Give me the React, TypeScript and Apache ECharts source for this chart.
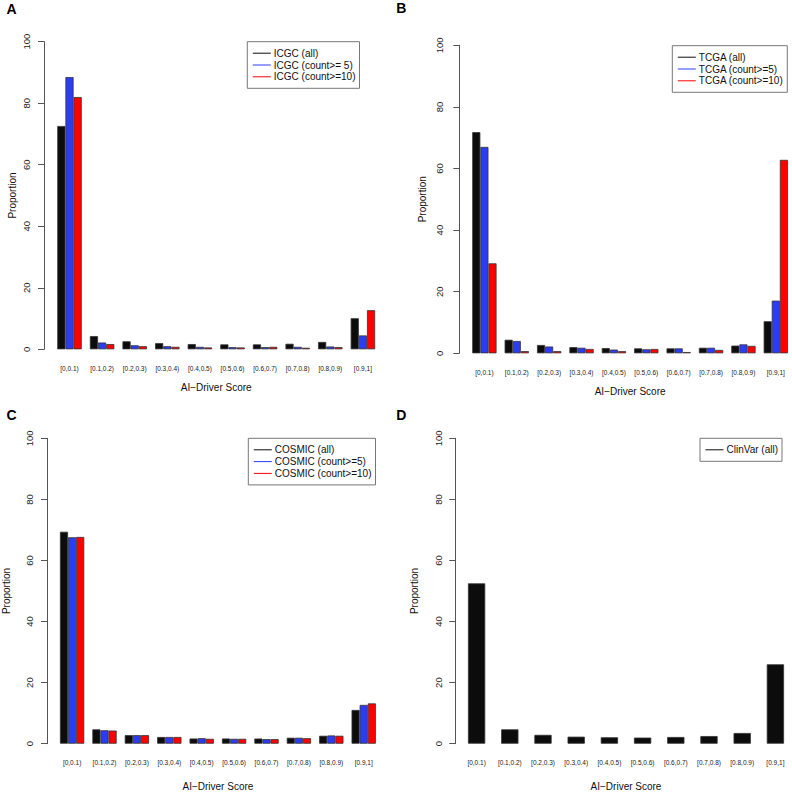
import React, { useEffect, useRef } from "react";
import * as echarts from "echarts";

const categories = ["[0,0.1)", "[0.1,0.2)", "[0.2,0.3)", "[0.3,0.4)", "[0.4,0.5)", "[0.5,0.6)", "[0.6,0.7)", "[0.7,0.8)", "[0.8,0.9)", "[0.9,1]"];
const yTickMin = 0;
const yTickMax = 100;
const yTickStep = 20;

const icgcAll = [72.6, 4.3, 2.6, 2.0, 1.7, 1.6, 1.6, 1.8, 2.4, 10.1];
const icgc5 = [88.5, 2.2, 1.3, 1.0, 0.8, 0.7, 0.7, 0.8, 0.9, 4.5];
const icgc10 = [82.0, 1.7, 1.0, 0.8, 0.6, 0.6, 0.8, 0.5, 0.7, 12.7];
const tcgaAll = [71.8, 4.4, 2.7, 2.0, 1.7, 1.6, 1.6, 1.8, 2.5, 10.4];
const tcga5 = [67.0, 4.0, 2.2, 1.8, 1.2, 1.3, 1.6, 1.8, 2.9, 17.1];
const tcga10 = [29.2, 0.7, 0.7, 1.4, 0.7, 1.4, 0.4, 1.1, 2.4, 62.8];
const cosmicAll = [69.4, 4.7, 2.8, 2.2, 1.7, 1.7, 1.7, 1.95, 2.6, 11.05];
const cosmic5 = [67.6, 4.4, 2.8, 2.2, 1.8, 1.6, 1.5, 1.95, 2.7, 12.7];
const cosmic10 = [67.7, 4.3, 2.8, 2.2, 1.6, 1.6, 1.5, 1.8, 2.6, 13.2];
const clinvarAll = [52.5, 4.7, 2.9, 2.3, 2.1, 2.0, 2.2, 2.5, 3.5, 26.0];

const panelLetters = ["A", "B", "C", "D"];
const xTitle = "AI\u2212Driver Score";
const yTitle = "Proportion";

const FONT = "Liberation Sans, Arial, Helvetica, sans-serif";
const BLACK = "#0c0c0c";
const BLUE = "#2b3cf5";
const RED = "#ff0000";

type Panel = {
  grid: { left: number; top: number; width: number; height: number };
  yOffset: number;
  labelMargin: number;
  yNameGap: number;
  xNameGap: number;
  catGap: string;
  series: { name: string; data: number[]; color: string }[];
  legend: { left: number; top: number };
  letter: { x: number; y: number };
};

const panels: Panel[] = [
  {
    grid: { left: 53.2, top: 41.7, width: 326, height: 307.6 },
    yOffset: 9.2,
    labelMargin: 12.3,
    yNameGap: 27,
    xNameGap: 33.4,
    catGap: "25%",
    series: [
      { name: "ICGC (all)", data: icgcAll, color: BLACK },
      { name: "ICGC (count>= 5)", data: icgc5, color: BLUE },
      { name: "ICGC (count>=10)", data: icgc10, color: RED },
    ],
    legend: { left: 247.3, top: 41.7 },
    letter: { x: 6.5, y: 8.7 },
  },
  {
    grid: { left: 468.2, top: 45.3, width: 326, height: 308 },
    yOffset: 8.9,
    labelMargin: 14.5,
    yNameGap: 31.6,
    xNameGap: 32.7,
    catGap: "25%",
    series: [
      { name: "TCGA (all)", data: tcgaAll, color: BLACK },
      { name: "TCGA (count>=5)", data: tcga5, color: BLUE },
      { name: "TCGA (count>=10)", data: tcga10, color: RED },
    ],
    legend: { left: 672.3, top: 45.7 },
    letter: { x: 396.3, y: 8.3 },
  },
  {
    grid: { left: 53.9, top: 438.3, width: 326, height: 307.7 },
    yOffset: 8.9,
    labelMargin: 12.7,
    yNameGap: 36,
    xNameGap: 37.3,
    catGap: "25%",
    series: [
      { name: "COSMIC (all)", data: cosmicAll, color: BLACK },
      { name: "COSMIC (count>=5)", data: cosmic5, color: BLUE },
      { name: "COSMIC (count>=10)", data: cosmic10, color: RED },
    ],
    legend: { left: 248.3, top: 438.3 },
    letter: { x: 6.5, y: 415.2 },
  },
  {
    grid: { left: 460, top: 438.3, width: 334, height: 307.7 },
    yOffset: 4.7,
    labelMargin: 12,
    yNameGap: 36,
    xNameGap: 37.3,
    catGap: "48%",
    series: [{ name: "ClinVar (all)", data: clinvarAll, color: BLACK }],
    legend: { left: 700, top: 438.3 },
    letter: { x: 396.3, y: 414.7 },
  },
];

function buildOption() {
  const grid: any[] = [];
  const xAxis: any[] = [];
  const yAxis: any[] = [];
  const series: any[] = [];
  const legend: any[] = [];
  const graphic: any[] = [];

  panels.forEach((p, i) => {
    grid.push({ ...p.grid, containLabel: false });
    xAxis.push({
      type: "category",
      gridIndex: i,
      data: categories,
      axisLine: { show: false },
      axisTick: { show: false },
      axisLabel: { interval: 0, fontSize: 6.5, margin: 15.7, color: "#222", fontFamily: FONT },
      name: xTitle,
      nameLocation: "middle",
      nameGap: p.xNameGap,
      nameTextStyle: { fontSize: 10, color: "#111", fontFamily: FONT },
      splitLine: { show: false },
    });
    yAxis.push({
      type: "value",
      gridIndex: i,
      min: yTickMin,
      max: yTickMax,
      interval: yTickStep,
      offset: p.yOffset,
      axisLine: { show: true, lineStyle: { color: "#555", width: 1 } },
      axisTick: { show: true, length: 6, lineStyle: { color: "#555", width: 1 } },
      axisLabel: { rotate: 90, fontSize: 9.5, margin: p.labelMargin, color: "#222", fontFamily: FONT },
      splitLine: { show: false },
      name: yTitle,
      nameLocation: "middle",
      nameRotate: 90,
      nameGap: p.yNameGap,
      nameTextStyle: { fontSize: 10, color: "#111", fontFamily: FONT },
    });
    p.series.forEach((s) => {
      series.push({
        type: "bar",
        name: s.name,
        xAxisIndex: i,
        yAxisIndex: i,
        data: s.data,
        barGap: "0%",
        barCategoryGap: p.catGap,
        itemStyle: { color: s.color, borderColor: "#333", borderWidth: 0.8 },
      });
    });
    legend.push({
      left: p.legend.left,
      top: p.legend.top,
      orient: "vertical",
      data: p.series.map((s) => ({ name: s.name, itemStyle: { color: s.color, borderWidth: 0 } })),
      icon: "rect",
      itemWidth: 18,
      itemHeight: 1,
      itemGap: 0,
      padding: [5.6, 4, 5.6, 5.5],
      borderColor: "#777",
      borderWidth: 1,
      borderRadius: 0,
      selectedMode: false,
      itemStyle: { borderWidth: 0 },
      textStyle: { fontSize: 10, lineHeight: 11.8, color: "#111", fontFamily: FONT, padding: [0, 0, 0, -2] },
    });
    graphic.push({
      type: "text",
      x: p.letter.x,
      y: p.letter.y,
      style: {
        text: panelLetters[i],
        fontSize: 14,
        fontWeight: "bold",
        fontFamily: FONT,
        fill: "#000",
        verticalAlign: "middle",
        align: "left",
      },
    });
  });

  return {
    animation: false,
    backgroundColor: "#ffffff",
    textStyle: { fontFamily: FONT },
    grid,
    xAxis,
    yAxis,
    series,
    legend,
    graphic,
  };
}

export default function App() {
  const ref = useRef<HTMLDivElement>(null);
  useEffect(() => {
    if (!ref.current) return;
    const chart = echarts.init(ref.current, null, { renderer: "svg" });
    chart.setOption(buildOption());
    return () => chart.dispose();
  }, []);
  return (
    <div
      ref={ref}
      style={{ position: "fixed", left: 0, top: 0, width: 792, height: 792, background: "#fff" }}
    />
  );
}
